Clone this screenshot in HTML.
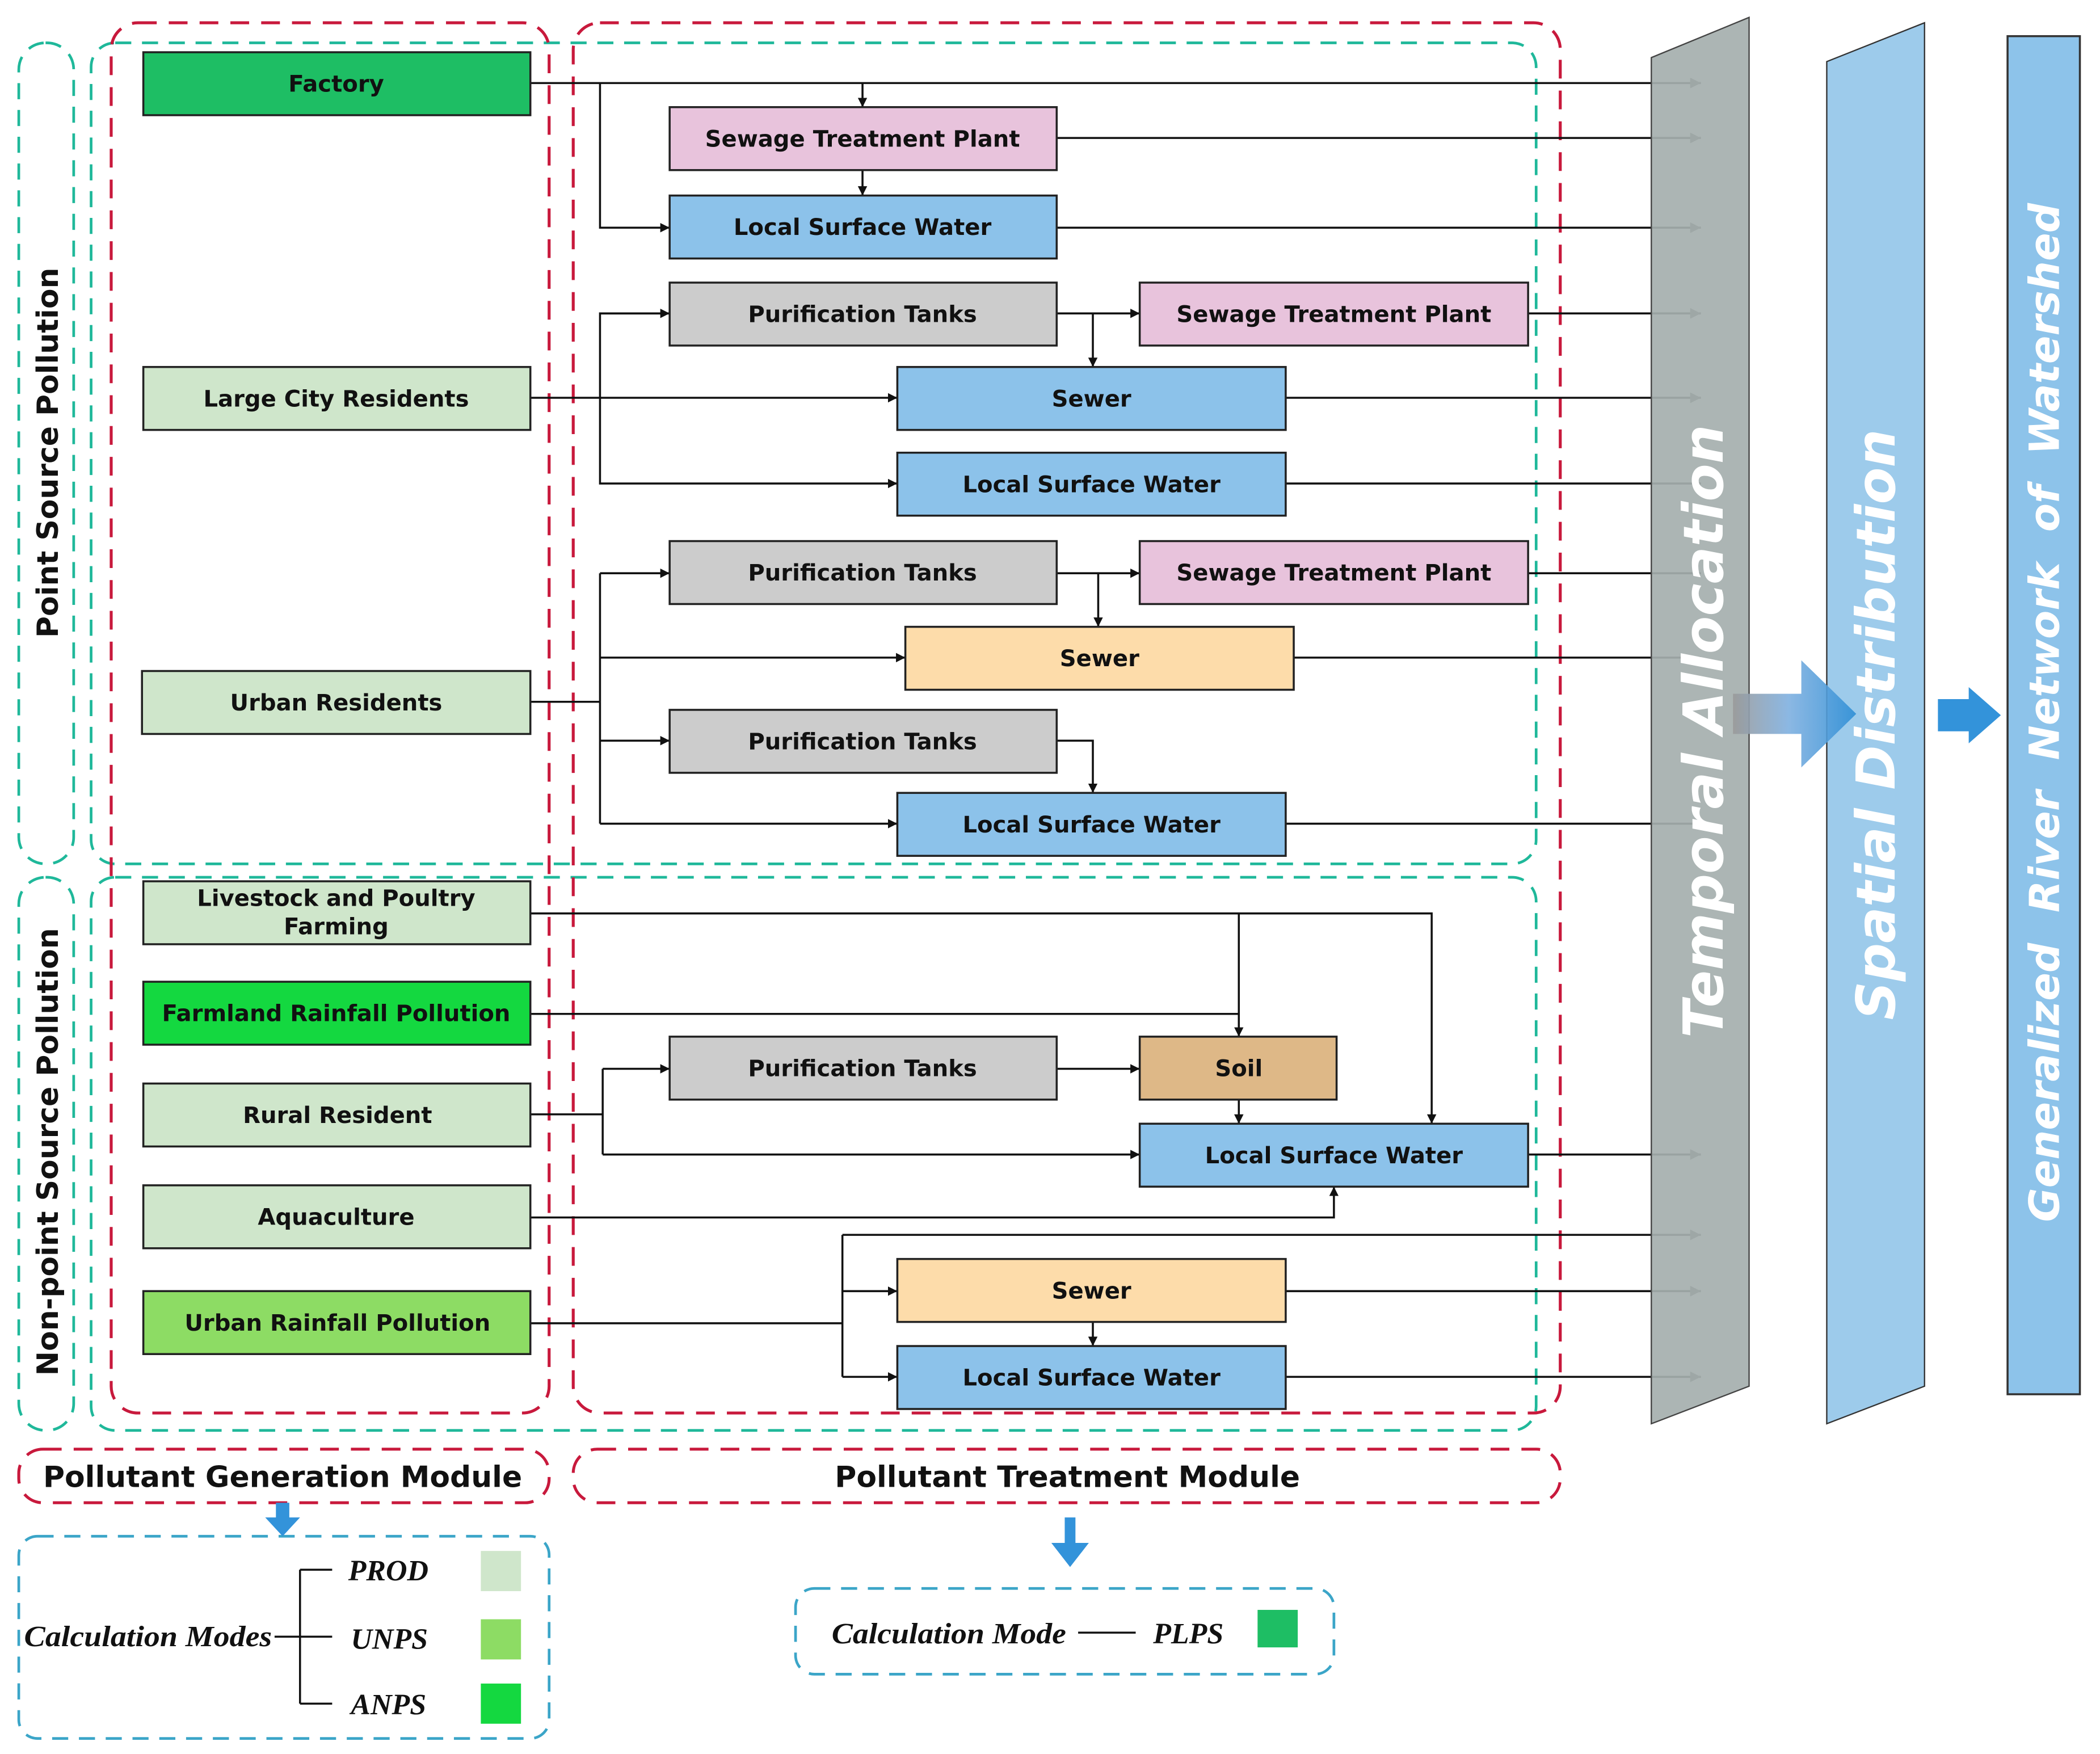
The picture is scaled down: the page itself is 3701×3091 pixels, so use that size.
<!DOCTYPE html>
<html><head><meta charset="utf-8"><style>
html,body{margin:0;padding:0;background:#fff;}
svg{display:block;}
.b{stroke:#222;stroke-width:1.5;}
.t{font-family:"DejaVu Sans","Liberation Sans",sans-serif;font-weight:bold;font-size:17px;fill:#111;text-anchor:middle;dominant-baseline:central;}
.l{stroke:#111;stroke-width:1.5;fill:none;}
.rd{fill:none;stroke:#c8193c;stroke-width:2.2;stroke-dasharray:14 9;}
.tl{fill:none;stroke:#1fb89a;stroke-width:2;stroke-dasharray:12 8;}
.bl{fill:none;stroke:#3ba5c8;stroke-width:2;stroke-dasharray:12 8;}
.lg{font-family:"Liberation Serif",serif;font-style:italic;font-weight:bold;font-size:22px;fill:#111;}
</style></head><body>
<svg width="3701" height="3091" viewBox="0 0 1568 1309.6" xmlns="http://www.w3.org/2000/svg">
<defs>
<marker id="a" viewBox="0 0 10 10" refX="10" refY="5" markerWidth="7" markerHeight="7" orient="auto" markerUnits="userSpaceOnUse"><path d="M0,0L10,5L0,10z" fill="#111"/></marker>
<marker id="g" viewBox="0 0 10 10" refX="10" refY="5" markerWidth="8" markerHeight="8" orient="auto" markerUnits="userSpaceOnUse"><path d="M0,0L10,5L0,10z" fill="#555"/></marker>
<linearGradient id="ga" x1="0" x2="1"><stop offset="0" stop-color="#9a9a9a"/><stop offset="0.45" stop-color="#7fb0e0"/><stop offset="1" stop-color="#2f8fd6"/></linearGradient>
</defs>

<rect class="tl" x="14" y="32" width="41" height="613" rx="20"/>
<rect class="tl" x="14" y="655" width="41" height="413" rx="20"/>
<rect class="tl" x="68" y="32" width="1079" height="613" rx="18"/>
<rect class="tl" x="68" y="655" width="1079" height="413" rx="18"/>
<rect class="rd" x="83" y="17" width="327" height="1038" rx="20"/>
<rect class="rd" x="428" y="17" width="737" height="1038" rx="20"/>
<rect class="rd" x="14" y="1082" width="396" height="40" rx="18"/>
<rect class="rd" x="428" y="1082" width="737" height="40" rx="18"/>
<rect class="bl" x="14" y="1147" width="396" height="151" rx="14"/>
<rect class="bl" x="594" y="1186" width="402" height="64" rx="14"/>

<g class="l">
<path d="M396,62H1270" marker-end="url(#g)"/>
<path d="M448,62V170H500" marker-end="url(#a)"/>
<path d="M644,62V80" marker-end="url(#a)"/>
<path d="M644,127V146" marker-end="url(#a)"/>
<path d="M789,103H1270" marker-end="url(#g)"/>
<path d="M789,170H1270" marker-end="url(#g)"/>
<path d="M396,297H670" marker-end="url(#a)"/>
<path d="M500,234H448V361H670" marker-end="url(#a)"/>
<path d="M448,234H500" marker-end="url(#a)"/>
<path d="M789,234H851" marker-end="url(#a)"/>
<path d="M816,234V274" marker-end="url(#a)"/>
<path d="M1141,234H1270" marker-end="url(#g)"/>
<path d="M960,297H1270" marker-end="url(#g)"/>
<path d="M960,361H1270"/>
<path d="M396,524H448"/>
<path d="M448,428V615"/>
<path d="M448,428H500" marker-end="url(#a)"/>
<path d="M448,491H676" marker-end="url(#a)"/>
<path d="M448,553H500" marker-end="url(#a)"/>
<path d="M448,615H670" marker-end="url(#a)"/>
<path d="M789,428H851" marker-end="url(#a)"/>
<path d="M820,428V468" marker-end="url(#a)"/>
<path d="M1141,428H1270"/>
<path d="M966,491H1270"/>
<path d="M789,553H816V592" marker-end="url(#a)"/>
<path d="M960,615H1270"/>
<path d="M396,682H1069V839" marker-end="url(#a)"/>
<path d="M925,682V774" marker-end="url(#a)"/>
<path d="M396,757H925"/>
<path d="M396,832H450"/>
<path d="M450,798V862"/>
<path d="M450,798H500" marker-end="url(#a)"/>
<path d="M450,862H851" marker-end="url(#a)"/>
<path d="M789,798H851" marker-end="url(#a)"/>
<path d="M925,821V839" marker-end="url(#a)"/>
<path d="M1141,862H1270" marker-end="url(#g)"/>
<path d="M396,909H996V886" marker-end="url(#a)"/>
<path d="M396,988H629"/>
<path d="M629,922V1028"/>
<path d="M629,922H1270" marker-end="url(#g)"/>
<path d="M629,964H670" marker-end="url(#a)"/>
<path d="M629,1028H670" marker-end="url(#a)"/>
<path d="M816,987V1005" marker-end="url(#a)"/>
<path d="M960,964H1270" marker-end="url(#g)"/>
<path d="M960,1028H1270" marker-end="url(#g)"/>
</g>

<g>
<rect class="b" x="107" y="39" width="289" height="47" fill="#1ebe64"/><text class="t" x="251" y="63">Factory</text>
<rect class="b" x="500" y="80" width="289" height="47" fill="#e8c3dc"/><text class="t" x="644" y="104">Sewage Treatment Plant</text>
<rect class="b" x="500" y="146" width="289" height="47" fill="#8cc2ea"/><text class="t" x="644" y="170">Local Surface Water</text>
<rect class="b" x="500" y="211" width="289" height="47" fill="#cccccc"/><text class="t" x="644" y="235">Purification Tanks</text>
<rect class="b" x="851" y="211" width="290" height="47" fill="#e8c3dc"/><text class="t" x="996" y="235">Sewage Treatment Plant</text>
<rect class="b" x="107" y="274" width="289" height="47" fill="#cfe6cb"/><text class="t" x="251" y="298">Large City Residents</text>
<rect class="b" x="670" y="274" width="290" height="47" fill="#8cc2ea"/><text class="t" x="815" y="298">Sewer</text>
<rect class="b" x="670" y="338" width="290" height="47" fill="#8cc2ea"/><text class="t" x="815" y="362">Local Surface Water</text>
<rect class="b" x="500" y="404" width="289" height="47" fill="#cccccc"/><text class="t" x="644" y="428">Purification Tanks</text>
<rect class="b" x="851" y="404" width="290" height="47" fill="#e8c3dc"/><text class="t" x="996" y="428">Sewage Treatment Plant</text>
<rect class="b" x="676" y="468" width="290" height="47" fill="#fddcaa"/><text class="t" x="821" y="492">Sewer</text>
<rect class="b" x="106" y="501" width="290" height="47" fill="#cfe6cb"/><text class="t" x="251" y="525">Urban Residents</text>
<rect class="b" x="500" y="530" width="289" height="47" fill="#cccccc"/><text class="t" x="644" y="554">Purification Tanks</text>
<rect class="b" x="670" y="592" width="290" height="47" fill="#8cc2ea"/><text class="t" x="815" y="616">Local Surface Water</text>
<rect class="b" x="107" y="658" width="289" height="47" fill="#cfe6cb"/><text class="t" x="251" y="671">Livestock and Poultry</text><text class="t" x="251" y="692">Farming</text>
<rect class="b" x="107" y="733" width="289" height="47" fill="#14d840"/><text class="t" x="251" y="757">Farmland Rainfall Pollution</text>
<rect class="b" x="500" y="774" width="289" height="47" fill="#cccccc"/><text class="t" x="644" y="798">Purification Tanks</text>
<rect class="b" x="851" y="774" width="147" height="47" fill="#deb887"/><text class="t" x="925" y="798">Soil</text>
<rect class="b" x="107" y="809" width="289" height="47" fill="#cfe6cb"/><text class="t" x="252" y="833">Rural Resident</text>
<rect class="b" x="851" y="839" width="290" height="47" fill="#8cc2ea"/><text class="t" x="996" y="863">Local Surface Water</text>
<rect class="b" x="107" y="885" width="289" height="47" fill="#cfe6cb"/><text class="t" x="251" y="909">Aquaculture</text>
<rect class="b" x="107" y="964" width="289" height="47" fill="#8ddc64"/><text class="t" x="252" y="988">Urban Rainfall Pollution</text>
<rect class="b" x="670" y="940" width="290" height="47" fill="#fddcaa"/><text class="t" x="815" y="964">Sewer</text>
<rect class="b" x="670" y="1005" width="290" height="47" fill="#8cc2ea"/><text class="t" x="815" y="1029">Local Surface Water</text>
</g>

<text class="t" style="font-size:22px" transform="translate(36,338) rotate(-90)">Point Source Pollution</text>
<text class="t" style="font-size:22px" transform="translate(36,860) rotate(-90)">Non-point Source Pollution</text>

<polygon points="1233,43 1306,13 1306,1035 1233,1063" fill="#a5afae" fill-opacity="0.92" stroke="#444" stroke-width="1"/>
<text class="t" style="font-size:41px;font-style:italic;fill:#fff" transform="translate(1272,546) rotate(-90)">Temporal Allocation</text>
<polygon points="1364,46 1437,17 1437,1035 1364,1063" fill="#9dcbeb" stroke="#333" stroke-width="1"/>
<text class="t" style="font-size:40px;font-style:italic;fill:#fff" transform="translate(1401,541) rotate(-90)">Spatial Distribution</text>
<rect x="1499" y="27" width="54" height="1014" fill="#8dc3ea" stroke="#333" stroke-width="1.5"/>
<text class="t" style="font-size:31px;font-style:italic;fill:#fff;word-spacing:12px" transform="translate(1527,532) rotate(-90)">Generalized River Network of Watershed</text>
<polygon points="1294,518 1345,518 1345,493 1386,533 1345,573 1345,548 1294,548" fill="url(#ga)" fill-opacity="0.9"/>
<polygon points="1447,522 1470,522 1470,513 1494,534 1470,555 1470,546 1447,546" fill="#3393da"/>

<text class="t" style="font-size:22px" x="211" y="1103">Pollutant Generation Module</text>
<text class="t" style="font-size:22px" x="797" y="1103">Pollutant Treatment Module</text>
<polygon points="206,1122 216,1122 216,1133 224,1133 211,1147 198,1133 206,1133" fill="#3393da"/>
<polygon points="795,1133 803,1133 803,1152 813,1152 799,1170 785,1152 795,1152" fill="#3393da"/>

<text class="lg" x="18" y="1229" textLength="185" lengthAdjust="spacingAndGlyphs">Calculation Modes</text>
<path class="l" d="M205,1222H248M224,1172V1272M224,1172H248M224,1272H248"/>
<text class="lg" x="260" y="1180">PROD</text>
<text class="lg" x="262" y="1231">UNPS</text>
<text class="lg" x="262" y="1280">ANPS</text>
<rect x="359" y="1158" width="30" height="30" fill="#cfe6cb"/>
<rect x="359" y="1209" width="30" height="30" fill="#8ddc64"/>
<rect x="359" y="1257" width="30" height="30" fill="#14d840"/>
<text class="lg" x="621" y="1227" textLength="175" lengthAdjust="spacingAndGlyphs">Calculation Mode</text>
<path class="l" d="M805,1219H848"/>
<text class="lg" x="861" y="1227">PLPS</text>
<rect x="939" y="1202" width="30" height="28" fill="#1ebe64"/>
</svg>
</body></html>
